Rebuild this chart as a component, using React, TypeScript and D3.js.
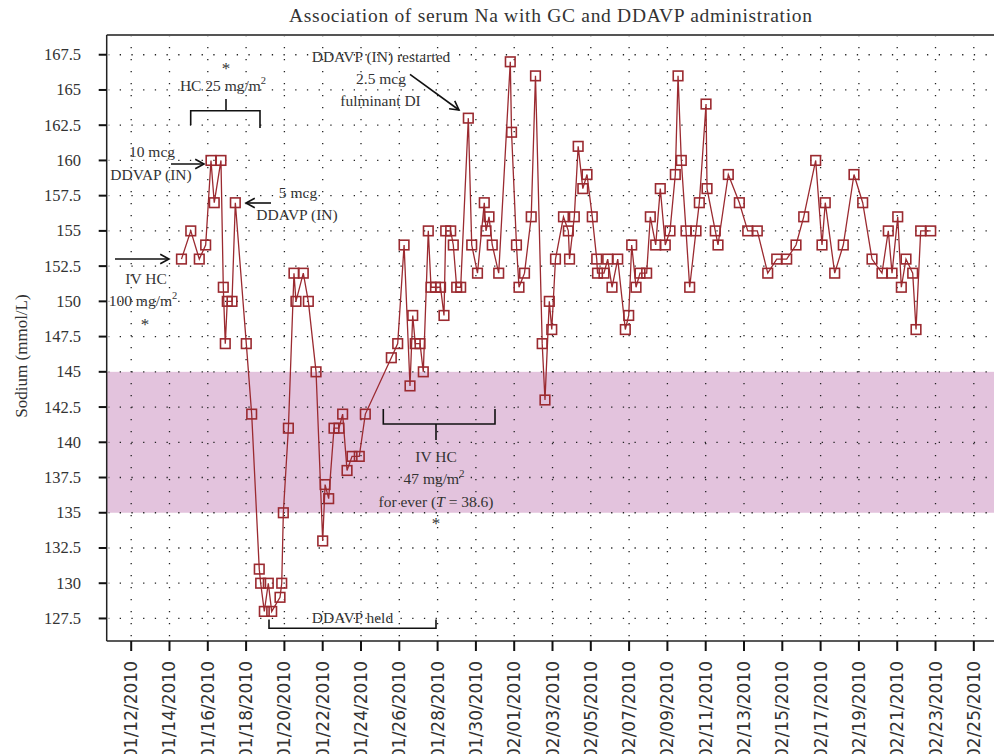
import * as d3 from "d3";

const WIDTH = 994;
const HEIGHT = 754;
const PLOT = { left: 106.7, right: 994, top: 35, bottom: 641 };

const LINE_COLOR = "#9b2a30";
const TEXT_COLOR = "#333";
const SERIF = "'Liberation Serif', 'Times New Roman', serif";

// sampling times (month/day/year hour:min) and serum sodium (mmol/L)
const sampleTimes = [
  "01/14/2010 15:00", "01/15/2010 02:40", "01/15/2010 13:20", "01/15/2010 21:20",
  "01/16/2010 04:00", "01/16/2010 08:05", "01/16/2010 16:30", "01/16/2010 19:25",
  "01/16/2010 21:55", "01/17/2010 00:25", "01/17/2010 06:20", "01/17/2010 10:30",
  "01/18/2010 00:15", "01/18/2010 07:00", "01/18/2010 16:30", "01/18/2010 18:15",
  "01/18/2010 22:50", "01/19/2010 03:50", "01/19/2010 08:05", "01/19/2010 18:30",
  "01/19/2010 20:40", "01/19/2010 22:40", "01/20/2010 05:00", "01/20/2010 12:00",
  "01/20/2010 14:30", "01/20/2010 23:40", "01/21/2010 06:00", "01/21/2010 15:40",
  "01/22/2010 00:00", "01/22/2010 03:00", "01/22/2010 07:30", "01/22/2010 14:10",
  "01/22/2010 20:25", "01/23/2010 01:00", "01/23/2010 06:30", "01/23/2010 12:45",
  "01/23/2010 21:50", "01/24/2010 05:25", "01/25/2010 14:00", "01/25/2010 22:00",
  "01/26/2010 06:00", "01/26/2010 13:25", "01/26/2010 16:50", "01/26/2010 20:00",
  "01/27/2010 02:00", "01/27/2010 06:05", "01/27/2010 12:20", "01/27/2010 15:45",
  "01/27/2010 21:20", "01/28/2010 03:40", "01/28/2010 08:00", "01/28/2010 10:10",
  "01/28/2010 16:25", "01/28/2010 19:40", "01/28/2010 23:55", "01/29/2010 04:55",
  "01/29/2010 14:30", "01/29/2010 18:45", "01/30/2010 02:00", "01/30/2010 10:30",
  "01/30/2010 12:40", "01/30/2010 16:25", "01/30/2010 20:30", "01/31/2010 04:35",
  "01/31/2010 19:05", "01/31/2010 20:40", "02/01/2010 02:50", "02/01/2010 06:00",
  "02/01/2010 12:55", "02/01/2010 21:20", "02/02/2010 02:40", "02/02/2010 11:05",
  "02/02/2010 14:35", "02/02/2010 20:00", "02/02/2010 23:05", "02/03/2010 03:45",
  "02/03/2010 13:45", "02/03/2010 19:50", "02/03/2010 21:20", "02/04/2010 03:20",
  "02/04/2010 08:10", "02/04/2010 14:00", "02/04/2010 19:15", "02/05/2010 01:50",
  "02/05/2010 07:25", "02/05/2010 08:25", "02/05/2010 16:30", "02/05/2010 21:10",
  "02/06/2010 02:35", "02/06/2010 09:45", "02/06/2010 19:15", "02/06/2010 23:30",
  "02/07/2010 03:15", "02/07/2010 08:40", "02/07/2010 13:40", "02/07/2010 22:00",
  "02/08/2010 02:35", "02/08/2010 09:20", "02/08/2010 15:05", "02/08/2010 21:20",
  "02/09/2010 03:15", "02/09/2010 09:55", "02/09/2010 13:20", "02/09/2010 17:25",
  "02/09/2010 23:20", "02/10/2010 03:55", "02/10/2010 11:50", "02/10/2010 16:00",
  "02/11/2010 00:25", "02/11/2010 01:40", "02/11/2010 12:00", "02/11/2010 15:25",
  "02/12/2010 04:20", "02/12/2010 18:10", "02/13/2010 04:40", "02/13/2010 16:40",
  "02/14/2010 05:45", "02/14/2010 17:00", "02/15/2010 05:30", "02/15/2010 17:10",
  "02/16/2010 02:50", "02/16/2010 17:50", "02/17/2010 01:45", "02/17/2010 05:50",
  "02/17/2010 17:40", "02/18/2010 04:25", "02/18/2010 17:50", "02/19/2010 04:45",
  "02/19/2010 16:25", "02/20/2010 04:55", "02/20/2010 12:50", "02/20/2010 17:30",
  "02/21/2010 00:40", "02/21/2010 05:10", "02/21/2010 11:00", "02/21/2010 19:25",
  "02/21/2010 23:35", "02/22/2010 05:25", "02/22/2010 18:00",
];

const sodium = [
  153, 155, 153, 154, 160, 157, 160, 151, 147, 150, 150, 157,
  147, 142, 131, 130, 128, 130, 128, 129, 130, 135, 141, 152,
  150, 152, 150, 145, 133, 137, 136, 141, 141, 142, 138, 139,
  139, 142, 146, 147, 154, 144, 149, 147, 147, 145, 155, 151,
  151, 151, 149, 155, 155, 154, 151, 151, 163, 154, 152, 157,
  155, 156, 154, 152, 167, 162, 154, 151, 152, 156, 166, 147,
  143, 150, 148, 153, 156, 155, 153, 156, 161, 158, 159, 156,
  153, 152, 152, 153, 151, 153, 148, 149, 154, 151, 152, 152,
  156, 154, 158, 154, 155, 159, 166, 160, 155, 151, 155, 157,
  164, 158, 155, 154, 159, 157, 155, 155, 152, 153, 153, 154,
  156, 160, 154, 157, 152, 154, 159, 157, 153, 152, 155, 152,
  156, 151, 153, 152, 148, 155, 155,
];

const yTickValues = [
  127.5, 130, 132.5, 135, 137.5, 140, 142.5, 145, 147.5,
  150, 152.5, 155, 157.5, 160, 162.5, 165, 167.5,
];

const xTickLabels = [
  "01/12/2010", "01/14/2010", "01/16/2010", "01/18/2010", "01/20/2010",
  "01/22/2010", "01/24/2010", "01/26/2010", "01/28/2010", "01/30/2010",
  "02/01/2010", "02/03/2010", "02/05/2010", "02/07/2010", "02/09/2010",
  "02/11/2010", "02/13/2010", "02/15/2010", "02/17/2010", "02/19/2010",
  "02/21/2010", "02/23/2010", "02/25/2010",
];

// normal sodium range (shaded)
const normalRange = [135, 145];

const parseTime = d3.timeParse("%m/%d/%Y %H:%M");
const parseDay = d3.timeParse("%m/%d/%Y");

const Arrow = ({ x1, y1, x2, y2 }: { x1: number; y1: number; x2: number; y2: number }) => {
  const a = Math.atan2(y2 - y1, x2 - x1);
  const len = 10;
  const spread = 0.5;
  const p1 = [x2 - len * Math.cos(a - spread), y2 - len * Math.sin(a - spread)];
  const p2 = [x2 - len * Math.cos(a + spread), y2 - len * Math.sin(a + spread)];
  return (
    <g stroke="#111" strokeWidth={1.6} fill="none">
      <line x1={x1} y1={y1} x2={x2} y2={y2} />
      <polyline points={`${p1.join(",")} ${x2},${y2} ${p2.join(",")}`} />
    </g>
  );
};

const Sodium = () => {
  const data = sampleTimes.map((t, i) => ({ date: parseTime(t) as Date, value: sodium[i] }));

  const xScale = d3
    .scaleTime()
    .domain([new Date(2010, 0, 10, 17, 18), new Date(2010, 1, 26, 1, 18)])
    .range([PLOT.left, PLOT.right]);

  const yScale = d3.scaleLinear().domain([125.9, 168.9]).range([PLOT.bottom, PLOT.top]);

  const line = d3
    .line<{ date: Date; value: number }>()
    .x((d) => xScale(d.date))
    .y((d) => yScale(d.value));

  const xTicks = xTickLabels.map((l) => ({ label: l, x: xScale(parseDay(l) as Date) }));

  const annText = { fontFamily: SERIF, fontSize: 15.5, fill: TEXT_COLOR } as const;
  const sup = (s: string) => (
    <tspan dy={-7} fontSize={10.5}>
      {s}
    </tspan>
  );

  return (
    <svg width={WIDTH} height={HEIGHT} style={{ display: "block" }}>
      <rect width={WIDTH} height={HEIGHT} fill="#fff" />

      {/* normal range band */}
      <rect
        x={PLOT.left}
        width={PLOT.right - PLOT.left}
        y={yScale(normalRange[1])}
        height={yScale(normalRange[0]) - yScale(normalRange[1])}
        fill="#e3c3dd"
      />

      {/* dotted grid */}
      <g stroke="#222" strokeWidth={1.3}>
        {yTickValues.map((v) => (
          <line
            key={"gy" + v}
            x1={PLOT.left + 2}
            x2={PLOT.right}
            y1={yScale(v)}
            y2={yScale(v)}
            strokeDasharray="1.3,10.4"
            strokeDashoffset={-11}
          />
        ))}
        {xTicks.map((t) => (
          <line
            key={"gx" + t.label}
            x1={t.x}
            x2={t.x}
            y1={PLOT.top}
            y2={PLOT.bottom}
            strokeDasharray="1.3,10.7"
          />
        ))}
      </g>

      {/* frame */}
      <line x1={PLOT.left} x2={PLOT.right} y1={PLOT.top} y2={PLOT.top} stroke="#555" strokeWidth={2} />
      <line x1={PLOT.left} x2={PLOT.left} y1={PLOT.top} y2={PLOT.bottom} stroke="#222" strokeWidth={1.5} />
      <line x1={PLOT.left} x2={PLOT.right} y1={PLOT.bottom} y2={PLOT.bottom} stroke="#222" strokeWidth={1.5} />

      {/* y axis */}
      {yTickValues.map((v) => (
        <g key={"ty" + v}>
          <line x1={PLOT.left - 8} x2={PLOT.left} y1={yScale(v)} y2={yScale(v)} stroke="#111" strokeWidth={2} />
          <text
            x={81}
            y={yScale(v)}
            textAnchor="end"
            dominantBaseline="central"
            fontFamily={SERIF}
            fontSize={16.5}
            fill={TEXT_COLOR}
          >
            {v}
          </text>
        </g>
      ))}
      <text
        transform={`translate(21,${(PLOT.top + PLOT.bottom) / 2 + 18}) rotate(-90)`}
        textAnchor="middle"
        dominantBaseline="central"
        fontFamily={SERIF}
        fontSize={17}
        fill={TEXT_COLOR}
      >
        Sodium (mmol/L)
      </text>

      {/* x axis */}
      {xTicks.map((t) => (
        <g key={"tx" + t.label}>
          <line x1={t.x} x2={t.x} y1={PLOT.bottom} y2={PLOT.bottom + 10} stroke="#111" strokeWidth={2} />
          <text
            transform={`translate(${t.x},${PLOT.bottom + 20}) rotate(-90)`}
            textAnchor="end"
            dominantBaseline="central"
            fontFamily="'DejaVu Sans', Verdana, sans-serif"
            fontSize={17}
            fill={TEXT_COLOR}
          >
            {t.label}
          </text>
        </g>
      ))}

      {/* title */}
      <text x={550.5} y={22} textAnchor="middle" fontFamily={SERIF} fontSize={19.5} fill={TEXT_COLOR} textLength={523} lengthAdjust="spacing">
        Association of serum Na with GC and DDAVP administration
      </text>

      {/* series */}
      <path d={line(data) || ""} fill="none" stroke={LINE_COLOR} strokeWidth={1.3} />
      {data.map((d, i) => (
        <rect
          key={i}
          x={xScale(d.date) - 4.8}
          y={yScale(d.value) - 4.8}
          width={9.6}
          height={9.6}
          fill="none"
          stroke={LINE_COLOR}
          strokeWidth={1.6}
        />
      ))}

      {/* annotations */}
      <g {...annText}>
        <text x={226} y={74} textAnchor="middle" fontSize={17}>*</text>
        <text x={223} y={91} textAnchor="middle">HC 25 mg/m{sup("2")}</text>

        <text x={152} y={157} textAnchor="middle">10 mcg</text>
        <text x={151} y={180} textAnchor="middle">DDVAP (IN)</text>

        <text x={298} y={198} textAnchor="middle">5 mcg</text>
        <text x={297} y={220} textAnchor="middle">DDAVP (IN)</text>

        <text x={146} y={284} textAnchor="middle">IV HC</text>
        <text x={143} y={306} textAnchor="middle">100 mg/m{sup("2")}</text>
        <text x={145} y={330} textAnchor="middle" fontSize={17}>*</text>

        <text x={381} y={62} textAnchor="middle">DDAVP (IN) restarted</text>
        <text x={381} y={84} textAnchor="middle">2.5 mcg</text>
        <text x={380.5} y={106} textAnchor="middle">fulminant DI</text>

        <text x={436} y={462} textAnchor="middle">IV HC</text>
        <text x={434} y={484} textAnchor="middle">47 mg/m{sup("2")}</text>
        <text x={436} y={507} textAnchor="middle">
          for ever (<tspan fontStyle="italic">T</tspan> = 38.6)
        </text>
        <text x={436} y={529} textAnchor="middle" fontSize={17}>*</text>

        <text x={352.5} y={623} textAnchor="middle">DDAVP held</text>
      </g>

      {/* brackets */}
      <g stroke="#111" strokeWidth={1.6} fill="none">
        <polyline points="190.7,125 190.7,110.7 260,110.7 260,128" />
        <line x1={226} x2={226} y1={99} y2={110.7} />

        <polyline points="383.3,409 383.3,424 495,424 495,409" />
        <line x1={436} x2={436} y1={424} y2={440} />

        <polyline points="269,619.5 269,628.3 436,628.3 436,619.5" />
      </g>

      {/* arrows */}
      <Arrow x1={171} y1={164} x2={204} y2={164} />
      <Arrow x1={271} y1={203} x2={246} y2={203} />
      <Arrow x1={115} y1={259} x2={169} y2={259} />
      <Arrow x1={410} y1={74.3} x2={459} y2={110} />
    </svg>
  );
};

export default function App() {
  return (
    <div style={{ position: "absolute", left: 0, top: 0 }}>
      <Sodium />
    </div>
  );
}
